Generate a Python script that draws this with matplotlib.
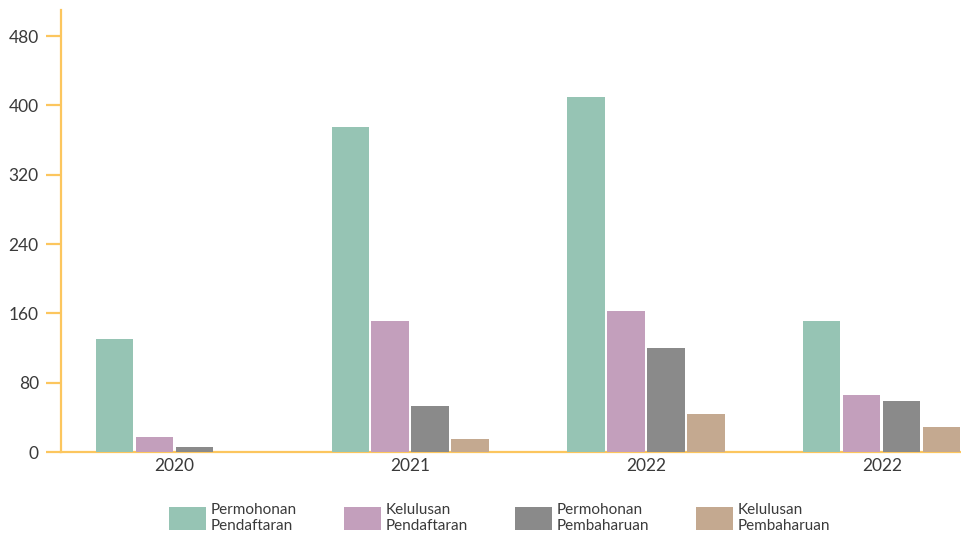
import numpy as np
import matplotlib
matplotlib.use("Agg")
import matplotlib.pyplot as plt

plt.rcParams['font.family'] = ['Lato', 'DejaVu Sans']

# Data
years = ['2020', '2021', '2022', '2022']
series_names = ['Permohonan\nPendaftaran', 'Kelulusan\nPendaftaran',
                'Permohonan\nPembaharuan', 'Kelulusan\nPembaharuan']
permohonan_pendaftaran = [131, 375, 410, 151]
kelulusan_pendaftaran = [17, 151, 163, 66]
permohonan_pembaharuan = [6, 53, 120, 59]
kelulusan_pembaharuan = [0, 15, 44, 29]
y_ticks = [0, 80, 160, 240, 320, 400, 480]

colors = ['#96c4b4', '#c39fbc', '#8a8a8a', '#c4a990']
axis_col = '#fcc65e'
text_col = '#3a3a3a'

fig = plt.figure(figsize=(9.61, 5.35), dpi=100)
ax = fig.add_axes([0.0635, 0.155, 0.9365, 0.826])

x = np.arange(len(years))
step = 0.1695
width = 0.157
all_series = [permohonan_pendaftaran, kelulusan_pendaftaran,
              permohonan_pembaharuan, kelulusan_pembaharuan]
for i, vals in enumerate(all_series):
    ax.bar(x + (i - 1.5) * step, vals, width=width, color=colors[i],
           label=series_names[i], zorder=1)

ax.set_xlim(-0.479, 3.335)
ax.set_ylim(0, 510)
ax.set_yticks(y_ticks)
ax.set_xticks(x)
ax.set_xticklabels(years)

for s in ['top', 'right']:
    ax.spines[s].set_visible(False)
for s in ['left', 'bottom']:
    ax.spines[s].set_color(axis_col)
    ax.spines[s].set_linewidth(1.6)
    ax.spines[s].set_zorder(0.5)

ax.tick_params(axis='y', length=11, width=1.6, color=axis_col, labelsize=12.5,
               labelcolor=text_col, pad=5)
ax.tick_params(axis='x', length=0, labelsize=12.5, labelcolor=text_col, pad=4)

fig.legend(loc='lower center', bbox_to_anchor=(0.52, 0.0), ncol=4,
           frameon=False, fontsize=11, handlelength=2.4, handleheight=1.95,
           handletextpad=0.3, columnspacing=3.1, labelcolor=text_col,
           borderaxespad=0, borderpad=0.12)

fig.savefig('out.png', dpi=100)
